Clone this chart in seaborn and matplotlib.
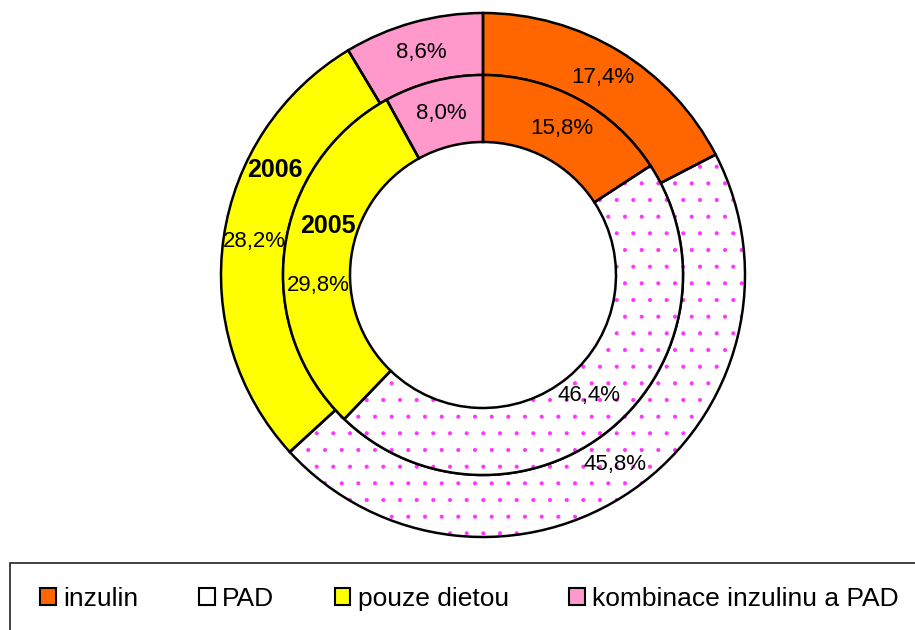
import numpy as np
import seaborn as sns
import matplotlib.pyplot as plt
from matplotlib.patches import Patch, Rectangle

sns.set_theme(style="white")
plt.rcParams["font.family"] = ["Liberation Sans", "DejaVu Sans"]
plt.rcParams["text.color"] = "black"
plt.rcParams["hatch.linewidth"] = 0.5

categories = ["inzulin", "PAD", "pouze dietou", "kombinace inzulinu a PAD"]
values_2006 = [17.4, 45.8, 28.2, 8.6]
values_2005 = [15.8, 46.4, 29.8, 8.0]
years = ["2006", "2005"]

colors = ["#FF6600", "#FFFFFF", "#FFFF00", "#FF99CC"]
hatches = ["", ".", "", ""]
hatch_col = "#FF33FF"

fig = plt.figure(figsize=(9.15, 6.3), dpi=100)
ax = fig.add_axes([0, 0, 1, 1])

cx, cy = 483, 355
rings = [(values_2006, 262, 62), (values_2005, 200, 67)]

for vals, r, w in rings:
    # fill + hatch pass
    wedges, _ = ax.pie(vals, radius=r, center=(cx, cy), startangle=90,
                       counterclock=False, colors=colors,
                       wedgeprops=dict(width=w, linewidth=0), frame=True)
    for wd, h in zip(wedges, hatches):
        if h:
            wd.set_hatch(h)
            wd.set_edgecolor(hatch_col)
    # outline pass
    ax.pie(vals, radius=r, center=(cx, cy), startangle=90, counterclock=False,
           wedgeprops=dict(width=w, fill=False, edgecolor="black", linewidth=1.8),
           frame=True)

ax.set_xlim(0, 915)
ax.set_ylim(0, 630)
ax.set_aspect("equal")
ax.axis("off")


def fmt(v):
    return f"{v:.1f}%".replace(".", ",")


for vals, r, w in rings:
    lr = r - w / 2
    cum = np.cumsum([0] + vals[:-1])
    for i, (c0, v) in enumerate(zip(cum, vals)):
        ang = np.deg2rad(90 - (c0 + v / 2) * 3.6)
        x, y = cx + lr * np.cos(ang), cy + lr * np.sin(ang)
        if vals is values_2005 and i == 2:
            y -= 32  # label pushed down under the "2005" name
        if vals is values_2005 and i == 1:
            y += 8
        ax.text(x, y, fmt(v), ha="center", va="center", fontsize=16)

# series names
for name, r, a in zip(years, [233, 163], [153.2, 162.5]):
    ang = np.deg2rad(a)
    ax.text(cx + r * np.cos(ang), cy + r * np.sin(ang), name, ha="center",
            va="center", fontsize=18, fontweight="bold")

# legend frame (runs off the right and bottom edge)
fig.patches.append(Rectangle((10 / 915, -0.2), 1.2, 0.2 + 67 / 630,
                             transform=fig.transFigure, fill=False,
                             edgecolor="#222222", linewidth=1.2, clip_on=False))

handles = [Patch(facecolor=c, edgecolor="black", linewidth=1.5) for c in colors]
fig.legend(handles, categories, loc="center left",
           bbox_to_anchor=(40 / 915, 1 - 599 / 630), ncol=4, frameon=False,
           fontsize=19, handlelength=0.6, handleheight=0.6,
           handletextpad=0.27, columnspacing=2.3, borderaxespad=0,
           borderpad=0)

fig.savefig("out.png", dpi=100)
